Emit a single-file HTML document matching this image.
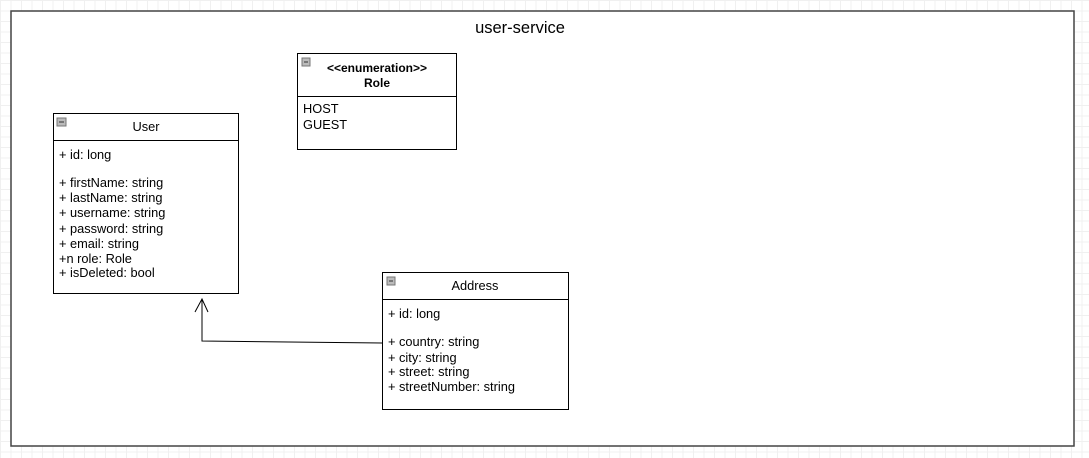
<!DOCTYPE html>
<html><head><meta charset="utf-8"><style>
html,body{margin:0;padding:0;width:1089px;height:458px;overflow:hidden;background:#fff;
background-image:linear-gradient(#f0f0f0 1px,transparent 1px),linear-gradient(90deg,#f0f0f0 1px,transparent 1px);
background-size:10.5px 10.5px;}
svg{position:absolute;left:0;top:0}
text{font-family:"Liberation Sans",Arial,sans-serif;font-size:12.8px;fill:#000}
</style></head><body>
<svg width="1089" height="458" xmlns="http://www.w3.org/2000/svg">
<rect x="11" y="11" width="1063" height="435" fill="#fff" stroke="#444" stroke-width="1.5"/>
<text x="520" y="33" text-anchor="middle" style="font-size:16.5px">user-service</text>

<!-- Role -->
<rect x="297.5" y="53.5" width="159" height="96" fill="#fff" stroke="#000"/>
<line x1="297.5" y1="96.5" x2="456.5" y2="96.5" stroke="#000"/>
<rect x="302" y="58" width="8" height="8" fill="#bbb" stroke="#777"/><line x1="304" y1="62" x2="308" y2="62" stroke="#333"/>
<text x="377" y="72" text-anchor="middle" style="font-size:12px;font-weight:bold">&lt;&lt;enumeration&gt;&gt;</text>
<text x="377" y="87" text-anchor="middle" style="font-size:12px;font-weight:bold">Role</text>
<text x="303" y="113">HOST</text>
<text x="303" y="129">GUEST</text>

<!-- User -->
<rect x="53.5" y="113.5" width="185" height="180" fill="#fff" stroke="#000"/>
<line x1="53.5" y1="140.5" x2="238.5" y2="140.5" stroke="#000"/>
<rect x="57" y="118" width="9" height="8" fill="#bbb" stroke="#777"/><line x1="59" y1="122" x2="64" y2="122" stroke="#333"/>
<text x="146" y="131" text-anchor="middle">User</text>
<text x="59" y="159">+ id: long</text>
<text x="59" y="187">+ firstName: string</text>
<text x="59" y="202">+ lastName: string</text>
<text x="59" y="217">+ username: string</text>
<text x="59" y="233">+ password: string</text>
<text x="59" y="248">+ email: string</text>
<text x="59" y="263">+n role: Role</text>
<text x="59" y="277">+ isDeleted: bool</text>

<!-- Address -->
<rect x="382.5" y="272.5" width="186" height="137" fill="#fff" stroke="#000"/>
<line x1="382.5" y1="299.5" x2="568.5" y2="299.5" stroke="#000"/>
<rect x="387" y="277" width="8" height="8" fill="#bbb" stroke="#777"/><line x1="389" y1="281" x2="393" y2="281" stroke="#333"/>
<text x="475" y="290" text-anchor="middle">Address</text>
<text x="388" y="318">+ id: long</text>
<text x="388" y="346">+ country: string</text>
<text x="388" y="362">+ city: string</text>
<text x="388" y="376">+ street: string</text>
<text x="388" y="391">+ streetNumber: string</text>

<!-- connector -->
<polyline points="383,343 202,341 202,299" fill="none" stroke="#000" stroke-width="1"/>
<polyline points="195,312 202,299 208,312" fill="none" stroke="#000" stroke-width="1"/>
</svg>
</body></html>
